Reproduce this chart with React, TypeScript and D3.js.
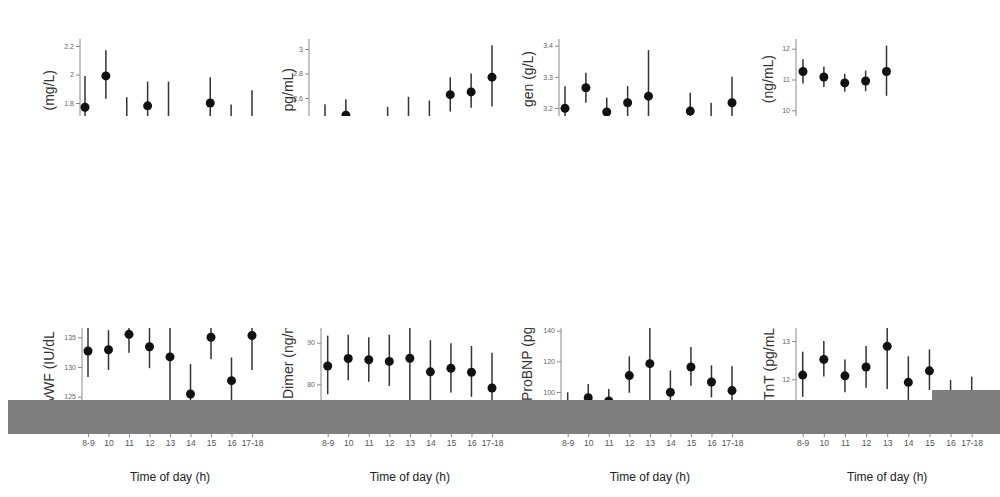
import { useEffect, useRef } from "react"
import * as d3 from "d3"

// Categorías del eje X
const horas = ["8-9", "10", "11", "12", "13", "14", "15", "16", "17-18"]

// Fila superior
const mgMedia = [1.77, 1.99, 1.66, 1.78, 1.62, 1.58, 1.8, 1.62, 1.65]
const mgBajo = [1.55, 1.83, 1.48, 1.61, 1.45, 1.45, 1.62, 1.45, 1.47]
const mgAlto = [1.99, 2.17, 1.84, 1.95, 1.95, 1.68, 1.98, 1.79, 1.89]

const pgMedia = [2.4, 2.46, 2.35, 2.4, 2.41, 2.4, 2.627, 2.65, 2.77]
const pgBajo = [2.28, 2.33, 2.27, 2.28, 2.3, 2.28, 2.49, 2.52, 2.53]
const pgAlto = [2.55, 2.59, 2.44, 2.527, 2.61, 2.58, 2.77, 2.8, 3.03]

const fibMedia = [3.199, 3.265, 3.187, 3.217, 3.238, 3.14, 3.19, 3.15, 3.217]
const fibBajo = [3.13, 3.217, 3.14, 3.165, 3.09, 3.1, 3.13, 3.1, 3.135]
const fibAlto = [3.27, 3.313, 3.233, 3.27, 3.386, 3.17, 3.249, 3.217, 3.3]

const ngMedia = [11.26, 11.08, 10.89, 10.95, 11.26, null, null, null, null]
const ngBajo = [10.87, 10.76, 10.6, 10.62, 10.47, null, null, null, null]
const ngAlto = [11.66, 11.41, 11.19, 11.29, 12.1, null, null, null, null]

// Fila inferior
const vwfMedia = [132.7, 132.9, 135.5, 133.4, 131.7, 125.45, 135.0, 127.7, 135.3]
const vwfBajo = [128.3, 129.5, 132.4, 129.8, 124.0, 120.4, 131.3, 123.8, 129.5]
const vwfAlto = [137.1, 136.2, 138.6, 137.0, 139.4, 130.5, 138.7, 131.6, 141.1]

const dimMedia = [84.4, 86.2, 85.9, 85.5, 86.25, 83.0, 83.85, 82.9, 79.1]
const dimBajo = [77.6, 81.0, 80.6, 79.6, 76.0, 75.4, 78.0, 77.0, 70.6]
const dimAlto = [91.7, 91.9, 91.3, 91.9, 96.5, 90.6, 89.85, 89.2, 87.6]

const bnpMedia = [90, 96.3, 94.2, 110.7, 118.5, 99.8, 116.3, 106.5, 100.9]
const bnpBajo = [80, 87, 86.5, 99.5, 89, 85.5, 104, 96.5, 85]
const bnpAlto = [99.8, 105.2, 101.9, 123.3, 148, 114.1, 129.4, 117.4, 116.8]

const tntMedia = [12.11, 12.52, 12.09, 12.32, 12.86, 11.92, 12.22, 11.55, 11.6]
const tntBajo = [11.54, 12.07, 11.66, 11.78, 11.75, 11.25, 11.72, 11.1, 11.1]
const tntAlto = [12.72, 13.0, 12.52, 12.87, 13.5, 12.6, 12.78, 11.98, 12.07]

const fuente = "'Liberation Sans', Arial, sans-serif"

type Fila = { y0: number; y1: number; ejeY0: number; ejeY1: number }
const filas: Fila[] = [
  { y0: 0, y1: 116, ejeY0: 39, ejeY1: 130 },
  { y0: 328, y1: 400, ejeY0: 320, ejeY1: 434 },
]

const paneles = [
  { fila: 0, etiqueta: "(mg/L)", media: mgMedia, bajo: mgBajo, alto: mgAlto, ticks: [1.8, 2, 2.2], eje: 80, x: [85, 252], v: [2.2, 1.8], p: [46, 103], lx: 49, ly: 70 },
  { fila: 0, etiqueta: "pg/mL)", media: pgMedia, bajo: pgBajo, alto: pgAlto, ticks: [2.6, 2.8, 3], eje: 309, x: [325, 492], v: [3, 2.6], p: [49, 98], lx: 288, ly: 68 },
  { fila: 0, etiqueta: "gen (g/L)", media: fibMedia, bajo: fibBajo, alto: fibAlto, ticks: [3.2, 3.3, 3.4], eje: 559, x: [565, 732], v: [3.4, 3.2], p: [45.7, 108], lx: 528, ly: 51 },
  { fila: 0, etiqueta: "(ng/mL)", media: ngMedia, bajo: ngBajo, alto: ngAlto, ticks: [10, 11, 12], eje: 796, x: [803, 970], v: [12, 10], p: [48.7, 110.3], lx: 768, ly: 55 },
  { fila: 1, etiqueta: "vWF (IU/dL", media: vwfMedia, bajo: vwfBajo, alto: vwfAlto, ticks: [125, 130, 135], eje: 82, x: [88, 252], v: [135, 125], p: [337.3, 396.7], lx: 49, ly: 402 },
  { fila: 1, etiqueta: "Dimer (ng/n", media: dimMedia, bajo: dimBajo, alto: dimAlto, ticks: [80, 90], eje: 321, x: [327.7, 492], v: [90, 80], p: [342.7, 384.3], lx: 288, ly: 399 },
  { fila: 1, etiqueta: "ProBNP (pg", media: bnpMedia, bajo: bnpBajo, alto: bnpAlto, ticks: [100, 120, 140], eje: 561, x: [567.7, 732], v: [140, 100], p: [330.7, 392], lx: 527, ly: 401 },
  { fila: 1, etiqueta: "TnT (pg/mL", media: tntMedia, bajo: tntBajo, alto: tntAlto, ticks: [12, 13], eje: 796, x: [802.7, 971.7], v: [13, 12], p: [341, 379.3], lx: 769, ly: 400 },
]

export default function App() {
  const svgRef = useRef<SVGSVGElement>(null)

  useEffect(() => {
    if (!svgRef.current) return
    const svg = d3.select(svgRef.current)
    svg.selectAll("*").remove()

    svg.append("rect").attr("width", 1000).attr("height", 497).attr("fill", "#fff")

    const defs = svg.append("defs")
    filas.forEach((f, i) => {
      defs
        .append("clipPath")
        .attr("id", `fila-${i}`)
        .append("rect")
        .attr("x", 0)
        .attr("y", f.y0)
        .attr("width", 1000)
        .attr("height", f.y1 - f.y0)
    })

    paneles.forEach((pn) => {
      const fila = filas[pn.fila]
      const g = svg.append("g").attr("clip-path", `url(#fila-${pn.fila})`)

      const x = d3.scalePoint<string>().domain(horas).range(pn.x as [number, number])
      const y = d3.scaleLinear().domain(pn.v).range(pn.p)

      // Eje Y
      g.append("line")
        .attr("x1", pn.eje)
        .attr("x2", pn.eje)
        .attr("y1", fila.ejeY0)
        .attr("y2", fila.ejeY1)
        .attr("stroke", "#8a8a8a")
        .attr("stroke-width", 1)

      const ejeY = g
        .append("g")
        .attr("transform", `translate(${pn.eje},0)`)
        .call(
          d3
            .axisLeft(y)
            .tickValues(pn.ticks)
            .tickSize(4)
            .tickPadding(2)
            .tickFormat((d) => String(+d))
        )
      ejeY.select(".domain").remove()
      ejeY.selectAll("line").attr("stroke", "#8a8a8a")
      ejeY.selectAll("text").attr("fill", "#666").style("font-size", "7px").style("font-family", fuente)

      // Etiqueta del eje Y
      g.append("text")
        .attr("transform", `translate(${pn.lx},${pn.ly}) rotate(-90)`)
        .attr("dy", "0.35em")
        .attr("text-anchor", pn.fila === 0 ? "end" : "start")
        .attr("fill", "#333")
        .style("font-size", "14px")
        .style("font-family", fuente)
        .text(pn.etiqueta)

      // Barras de error y puntos
      horas.forEach((h, i) => {
        const m = pn.media[i]
        if (m == null) return
        g.append("line")
          .attr("x1", x(h)!)
          .attr("x2", x(h)!)
          .attr("y1", y(pn.bajo[i] as number))
          .attr("y2", y(pn.alto[i] as number))
          .attr("stroke", "#333")
          .attr("stroke-width", 1.5)
        g.append("circle")
          .attr("cx", x(h)!)
          .attr("cy", y(m))
          .attr("r", 4.5)
          .attr("fill", "#111")
      })

      if (pn.fila === 1) {
        // Eje X de la fila inferior
        const ejeX = svg
          .append("g")
          .attr("transform", "translate(0,434)")
          .call(d3.axisBottom(x).tickSize(3).tickPadding(3))
        ejeX.select(".domain").remove()
        ejeX.selectAll("line").attr("stroke", "#8a8a8a")
        ejeX.selectAll("text").attr("fill", "#555").style("font-size", "8.5px").style("font-family", fuente)

        svg
          .append("text")
          .attr("x", (pn.x[0] + pn.x[1]) / 2)
          .attr("y", 481)
          .attr("text-anchor", "middle")
          .attr("fill", "#222")
          .style("font-size", "12px")
          .style("font-family", fuente)
          .text("Time of day (h)")
      }
    })

    // Banda gris que tapa la parte inferior
    svg.append("rect").attr("x", 8).attr("y", 400).attr("width", 992).attr("height", 34).attr("fill", "#7f7f7f")
    svg.append("rect").attr("x", 932).attr("y", 390).attr("width", 68).attr("height", 10).attr("fill", "#7f7f7f")
  }, [])

  return (
    <svg
      ref={svgRef}
      width={1000}
      height={497}
      style={{ position: "absolute", left: 0, top: 0, display: "block" }}
    />
  )
}
